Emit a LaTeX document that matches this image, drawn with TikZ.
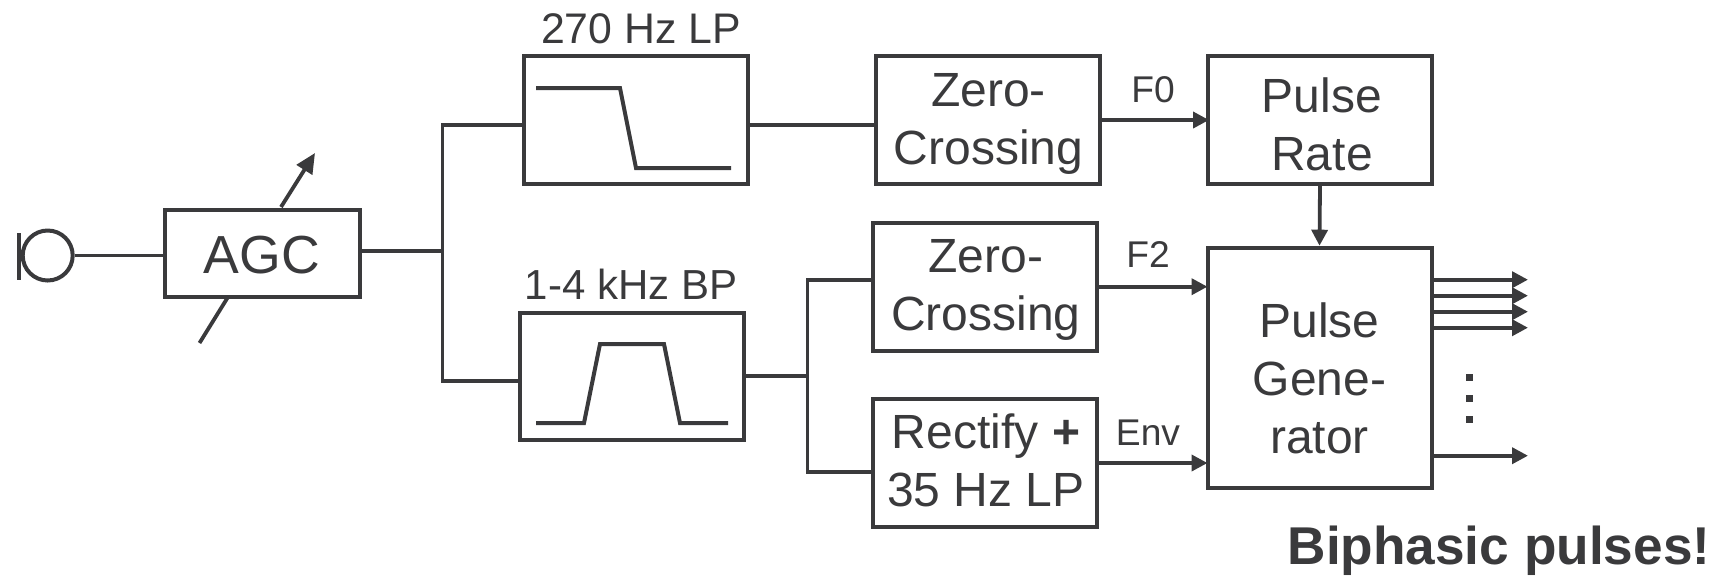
\documentclass[tikz,border=0pt]{standalone}
\usepackage{fontspec}
\setmainfont{Liberation Sans}
\usetikzlibrary{arrows.meta,calc}
\definecolor{ink}{HTML}{3A3A3C}
\tikzset{
  x=0.5pt,y=-0.5pt,
  box/.style={draw=ink,line width=2pt,inner sep=0pt},
  boxtext/.style={inner sep=0pt,align=center,text=ink,font=\fontsize{24}{29}\selectfont},
  wire/.style={draw=ink,line width=1.9pt},
  arrowline/.style={draw=ink,line width=1.9pt,-{Triangle[length=8pt,width=8pt]}},
  siglabel/.style={text=ink,inner sep=0pt,font=\fontsize{18.6}{22}\selectfont},
  captext/.style={text=ink,inner sep=0pt,font=\fontsize{21.4}{25}\selectfont},
  filtercurve/.style={draw=ink,line width=2pt,line join=miter},
}
\begin{document}
\begin{tikzpicture}
\useasboundingbox (0,0) rectangle (1725,575);
% boxes
\node[box,minimum width=97.5pt,minimum height=43.5pt] (agc) at (262,253) {};
\node[box,minimum width=112pt,minimum height=64pt] (lp) at (635.5,119.7) {};
\node[box,minimum width=112pt,minimum height=64pt] (zc1) at (987.5,119.7) {};
\node[box,minimum width=112pt,minimum height=64pt] (rate) at (1320,119.7) {};
\node[box,minimum width=112pt,minimum height=63.5pt] (bp) at (632,376) {};
\node[box,minimum width=112pt,minimum height=64pt] (zc2) at (985,286.7) {};
\node[box,minimum width=112pt,minimum height=64pt] (env) at (985,462.7) {};
\node[box,minimum width=112pt,minimum height=120pt] (gen) at (1319.5,367.7) {};
% box texts
\node[boxtext,font=\fontsize{26.8}{30}\selectfont] (agct) at (262,255) {AGC};
\node[boxtext] (zc1t) at (988.5,124) {Zero-\\Crossing};
\node[boxtext] (ratet) at (1322,124) {Pulse\\Rate};
\node[boxtext] (zc2t) at (986,290) {Zero-\\Crossing};
\node[boxtext] (envt) at (986,460) {Rectify \textbf{+}\\35 Hz LP};
\node[boxtext] (gent) at (1319.5,378) {Pulse\\Gene-\\rator};
% microphone
\node[draw=ink,line width=2pt,circle,minimum size=25pt,inner sep=0pt] (mic) at (47.7,255.5) {};
\coordinate (micbarT) at (19,233);
\coordinate (micbarB) at (19,280);
\draw[draw=ink,line width=2pt] (micbarT) -- (micbarB);
\draw[wire] (mic.east) -- (agc.west |- mic.east);
% AGC control
\coordinate (ctlT) at (281,207);
\coordinate (ctlTip) at (315,153);
\coordinate (ctlB) at (228,297);
\coordinate (ctlE) at (199.5,343);
\draw[arrowline,-{Triangle[length=10pt,width=9pt]}] (ctlT) -- (ctlTip);
\draw[wire] (ctlB) -- (ctlE);
% split 1
\coordinate (j1) at (442.5,251);
\coordinate (j1T) at (442.5,124.7);
\coordinate (j1B) at (442.5,381);
\draw[wire] (agc.east |- j1) -- (j1);
\draw[wire] (lp.west |- j1T) -- (j1T) -- (j1B) -- (bp.west |- j1B);
\draw[wire] (lp.east |- j1T) -- (zc1.west |- j1T);
% split 2
\coordinate (j2) at (807.5,376);
\coordinate (j2T) at (807.5,280);
\coordinate (j2B) at (807.5,472);
\draw[wire] (bp.east) -- (j2);
\draw[wire] (zc2.west |- j2T) -- (j2T) -- (j2B) -- (env.west |- j2B);
% signals
\coordinate (f0) at (1100,120);
\coordinate (f2) at (1100,286.7);
\coordinate (en) at (1100,463);
\draw[arrowline] (zc1.east |- f0) -- ([xshift=1.5pt]rate.west |- f0);
\draw[arrowline] (zc2.east |- f2) -- ([xshift=1pt]gen.west |- f2);
\draw[arrowline] (env.east |- en) -- ([xshift=1pt]gen.west |- en);
\draw[arrowline] (rate.south) -- (gen.north);
\node[siglabel] (lf0) at (1153,90) {F0};
\node[siglabel] (lf2) at (1148,255) {F2};
\node[siglabel] (lenv) at (1148,433) {Env};
% outputs
\foreach \n/\yy in {a/279.7,b/295.7,c/311.7,d/327.7,e/455.7}{
  \coordinate (o\n) at (1528,\yy);
  \draw[arrowline] (gen.east |- o\n) -- (o\n);
}
\foreach \n/\yy in {1/377,2/398,3/419}{
  \fill[ink] (1465.5,\yy-3.5) rectangle (1472.5,\yy+3.5);
}
% filter curves
\draw[filtercurve] (536,88) -- (620,88) -- (636,168) -- (731,168);
\draw[filtercurve] (536,423) -- (584,423) -- (600,344) -- (664,344) -- (680,423) -- (728,423);
% captions
\node[captext] (tlp) at (641,29) {270 Hz LP};
\node[captext,font=\fontsize{21}{25}\selectfont] (tbp) at (631,284) {1-4 kHz BP};
\node[text=ink,inner sep=0pt,font=\fontsize{26.6}{32}\selectfont\bfseries] (bi) at (1499,551) {Biphasic pulses!};
\end{tikzpicture}
\end{document}
